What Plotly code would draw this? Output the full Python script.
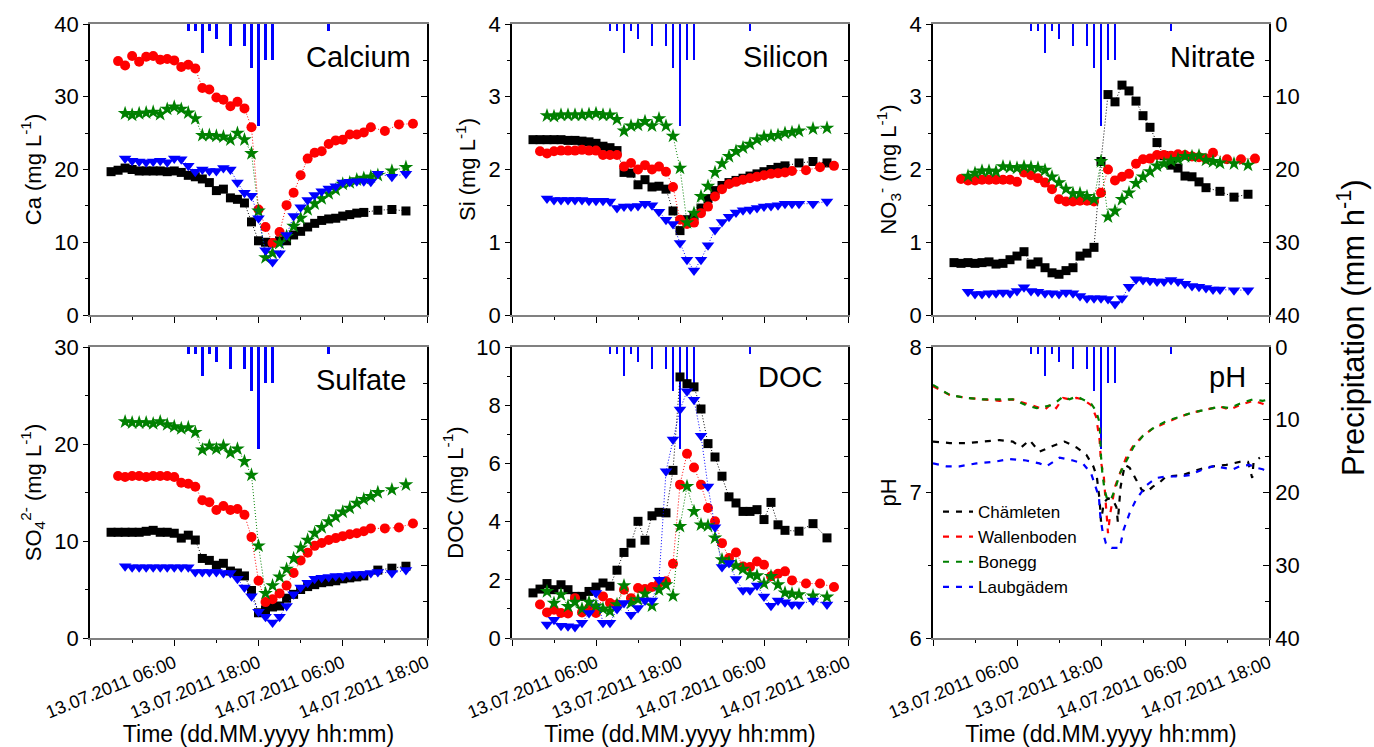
import plotly.graph_objects as go
import pandas as pd

# ---------------- data (hours counted from 12.07.2011 00:00) ----------------
T_CHAM = [21, 22, 23, 24, 25, 26, 27, 28, 29, 30, 31, 32, 33, 34, 35, 36, 37, 38, 39, 40,
          41, 42, 43, 44, 45, 46, 47, 48, 49, 50, 51, 52, 53, 54, 55, 56, 57, 59, 61, 63]
T_WALL = [22, 23, 24, 25, 26, 27, 28, 29, 30, 31, 32, 33, 34, 35, 36, 37, 38, 39, 40, 41,
          42, 43, 44, 45, 46, 47, 48, 49, 50, 51, 52, 53, 54, 55, 56, 57, 58, 60, 62, 64]
T_BON = [23, 24, 25, 26, 27, 28, 29, 30, 31, 32, 33, 34, 35, 36, 37, 38, 39, 40, 41, 42,
         43, 44, 45, 46, 47, 48, 49, 50, 51, 52, 53, 54, 55, 56, 57, 58, 59, 61, 63]
T_LAUB = [23, 24, 25, 26, 27, 28, 29, 30, 31, 32, 33, 34, 35, 36, 37, 38, 39, 40, 41, 42,
          43, 44, 45, 46, 47, 48, 49, 50, 51, 52, 53, 54, 55, 56, 57, 58, 59, 61, 63]

CA_CHAM = [19.7, 19.9, 20.2, 20.0, 19.8, 19.8, 19.8, 19.8, 19.7, 19.8, 19.6, 19.2, 19.0, 18.7, 18.2, 17.1, 17.3, 16.1, 15.9, 15.4,
           12.8, 10.2, 10.0, 9.9, 10.2, 10.2, 11.0, 11.5, 12.1, 12.6, 13.0, 13.2, 13.3, 13.6, 13.8, 14.0, 14.1, 14.4, 14.5, 14.3]
CA_WALL = [34.9, 34.3, 35.6, 34.8, 35.5, 35.6, 35.1, 35.2, 35.0, 34.1, 34.4, 33.9, 31.2, 31.0, 29.9, 29.6, 28.7, 29.3, 28.4, 25.8,
           14.5, 12.1, 9.9, 11.4, 15.1, 16.8, 19.2, 21.5, 22.3, 22.5, 23.5, 24.0, 24.1, 24.8, 24.8, 25.1, 25.8, 25.3, 26.2, 26.3]
CA_BON = [27.7, 27.5, 27.7, 27.8, 27.9, 27.6, 28.3, 28.6, 28.3, 27.8, 27.0, 24.7, 24.7, 24.6, 24.5, 24.1, 25.0, 24.1, 22.2, 14.3,
          7.9, 8.5, 9.9, 10.8, 12.2, 13.3, 14.5, 15.3, 16.0, 16.7, 17.2, 18.0, 18.2, 18.6, 18.8, 19.0, 19.2, 19.8, 20.3]
CA_LAUB = [21.5, 21.2, 21.1, 21.0, 21.1, 21.2, 21.0, 21.5, 21.4, 20.5, 19.7, 20.0, 19.8, 19.8, 20.2, 20.0, 18.2, 16.8, 16.4, 13.3,
           8.9, 7.3, 8.5, 11.0, 13.6, 14.8, 15.8, 16.5, 17.0, 17.4, 17.7, 18.2, 18.3, 18.4, 18.4, 18.3, 19.4, 19.0, 19.4]

SI_CHAM = [2.41, 2.41, 2.41, 2.41, 2.41, 2.40, 2.40, 2.39, 2.38, 2.36, 2.32, 2.30, 2.26, 1.96, 1.95, 1.79, 1.86, 1.76, 1.77, 1.73,
           1.43, 1.16, 1.31, 1.36, 1.47, 1.60, 1.71, 1.78, 1.82, 1.85, 1.88, 1.91, 1.94, 1.97, 2.00, 2.03, 2.05, 2.09, 2.11, 2.09]
SI_WALL = [2.25, 2.22, 2.25, 2.26, 2.26, 2.26, 2.27, 2.26, 2.26, 2.20, 2.20, 2.20, 2.04, 2.09, 2.00, 2.06, 2.00, 2.04, 1.97, 1.76,
           1.31, 1.25, 1.27, 1.40, 1.49, 1.63, 1.73, 1.80, 1.83, 1.86, 1.88, 1.90, 1.92, 1.94, 1.95, 1.96, 1.98, 1.99, 2.03, 2.05]
SI_BON = [2.74, 2.73, 2.75, 2.75, 2.75, 2.75, 2.76, 2.77, 2.75, 2.75, 2.69, 2.53, 2.60, 2.61, 2.66, 2.60, 2.70, 2.60, 2.46, 2.02,
          1.27, 1.40, 1.63, 1.77, 1.96, 2.08, 2.18, 2.25, 2.30, 2.35, 2.41, 2.45, 2.46, 2.47, 2.50, 2.51, 2.53, 2.56, 2.57]
SI_LAUB = [1.60, 1.58, 1.58, 1.58, 1.58, 1.58, 1.57, 1.57, 1.57, 1.56, 1.47, 1.49, 1.49, 1.50, 1.53, 1.51, 1.42, 1.31, 1.25, 0.99,
           0.76, 0.61, 0.76, 0.96, 1.17, 1.28, 1.35, 1.41, 1.44, 1.45, 1.47, 1.49, 1.50, 1.51, 1.53, 1.53, 1.53, 1.53, 1.56]

NO3_CHAM = [0.72, 0.71, 0.72, 0.71, 0.72, 0.73, 0.70, 0.71, 0.76, 0.81, 0.87, 0.70, 0.73, 0.65, 0.58, 0.56, 0.61, 0.65, 0.81, 0.85,
            0.93, 2.11, 3.03, 2.93, 3.16, 3.08, 2.94, 2.74, 2.58, 2.37, 2.19, 2.06, 2.02, 1.91, 1.90, 1.83, 1.75, 1.70, 1.62, 1.66]
NO3_WALL = [1.87, 1.85, 1.85, 1.86, 1.86, 1.86, 1.86, 1.86, 1.83, 1.96, 1.92, 1.88, 1.82, 1.73, 1.59, 1.56, 1.56, 1.57, 1.57, 1.56,
            1.68, 2.00, 1.85, 1.90, 1.94, 2.08, 2.14, 2.15, 2.20, 2.20, 2.19, 2.21, 2.20, 2.18, 2.17, 2.15, 2.23, 2.14, 2.14, 2.15]
NO3_BON = [1.91, 1.95, 1.98, 1.98, 1.97, 2.04, 2.03, 2.02, 2.04, 2.03, 2.02, 1.99, 1.90, 1.82, 1.73, 1.67, 1.67, 1.63, 1.59, 2.11,
           1.35, 1.43, 1.59, 1.68, 1.81, 1.90, 1.97, 2.05, 2.08, 2.12, 2.14, 2.18, 2.18, 2.19, 2.13, 2.11, 2.09, 2.08, 2.06]
NO3_LAUB = [0.32, 0.29, 0.29, 0.30, 0.30, 0.31, 0.30, 0.33, 0.38, 0.33, 0.32, 0.30, 0.30, 0.29, 0.31, 0.30, 0.26, 0.23, 0.23, 0.23,
            0.22, 0.15, 0.23, 0.39, 0.49, 0.48, 0.47, 0.46, 0.46, 0.48, 0.46, 0.43, 0.40, 0.39, 0.37, 0.35, 0.35, 0.34, 0.34]

SO4_CHAM = [10.9, 10.9, 10.9, 10.9, 10.9, 11.0, 11.1, 10.9, 10.9, 10.8, 10.3, 10.6, 10.1, 8.2, 8.0, 7.5, 7.7, 6.9, 6.7, 6.4,
            4.9, 2.6, 2.9, 3.2, 3.3, 4.1, 4.5, 5.0, 5.3, 5.5, 5.7, 5.8, 5.9, 6.1, 6.2, 6.3, 6.4, 7.0, 7.2, 7.4]
SO4_WALL = [16.7, 16.6, 16.7, 16.7, 16.6, 16.7, 16.7, 16.7, 16.6, 16.0, 15.9, 15.6, 14.2, 14.0, 13.2, 13.6, 13.2, 13.3, 12.7, 10.4,
            5.9, 3.7, 4.0, 4.6, 5.4, 6.7, 8.0, 8.8, 9.5, 9.8, 10.1, 10.3, 10.5, 10.7, 10.8, 11.0, 11.3, 11.3, 11.4, 11.8]
SO4_BON = [22.3, 22.2, 22.2, 22.2, 22.1, 22.3, 22.0, 21.8, 21.6, 21.7, 21.2, 19.4, 19.8, 19.5, 19.8, 19.1, 19.5, 18.2, 16.8, 9.5,
           4.6, 5.4, 6.3, 7.1, 8.2, 9.3, 10.1, 10.8, 11.4, 12.0, 12.5, 13.0, 13.4, 13.9, 14.3, 14.6, 15.0, 15.3, 15.8]
SO4_LAUB = [7.4, 7.3, 7.3, 7.3, 7.3, 7.3, 7.3, 7.3, 7.3, 7.3, 6.8, 6.8, 6.8, 6.8, 6.7, 6.7, 6.1, 5.2, 4.3, 2.7,
            2.2, 1.6, 2.2, 3.3, 4.5, 5.2, 5.7, 6.1, 6.2, 6.3, 6.4, 6.4, 6.5, 6.6, 6.6, 6.7, 6.8, 6.7, 7.0]

DOC_CHAM = [1.55, 1.68, 1.87, 1.66, 1.83, 1.66, 1.43, 1.43, 1.60, 1.75, 1.89, 1.78, 2.33, 2.94, 3.26, 4.01, 3.36, 4.20, 4.32, 4.30,
            5.76, 8.97, 8.74, 8.63, 7.87, 6.68, 6.22, 5.56, 4.85, 4.64, 4.35, 4.35, 4.41, 4.07, 4.66, 3.89, 3.70, 3.67, 3.93, 3.44]
DOC_WALL = [1.15, 0.88, 0.97, 0.86, 0.84, 1.37, 0.88, 1.03, 0.86, 1.43, 1.20, 1.15, 1.66, 1.37, 1.72, 1.68, 1.75, 1.89, 1.95, 2.55,
            5.27, 6.33, 5.86, 5.27, 4.47, 4.01, 3.26, 2.75, 2.94, 2.46, 2.44, 2.63, 2.52, 2.12, 2.21, 2.29, 1.98, 1.87, 1.87, 1.75]
DOC_BON = [1.60, 1.20, 1.49, 1.09, 1.23, 1.00, 1.23, 1.10, 1.00, 0.92, 1.15, 1.80, 1.20, 1.32, 1.52, 1.11, 1.66, 1.83, 1.45, 3.84,
           5.21, 4.35, 3.89, 3.86, 3.44, 2.69, 2.60, 2.49, 2.37, 2.18, 2.14, 1.87, 2.12, 1.83, 1.55, 1.52, 1.49, 1.45, 1.41]
DOC_LAUB = [0.46, 0.63, 0.42, 0.40, 0.38, 0.52, 0.86, 1.55, 0.52, 0.52, 1.00, 1.20, 0.80, 1.03, 1.29, 1.29, 2.00, 5.73, 6.82, 7.85,
            8.48, 8.19, 6.95, 5.21, 3.81, 2.44, 2.58, 2.03, 1.64, 1.64, 1.80, 1.43, 1.11, 1.29, 1.23, 1.15, 1.15, 1.29, 1.15]

PH_T_CHAM = [18.0, 20.4, 22.8, 25.1, 27.5, 29.4, 30.6, 31.8, 33.2, 35.1, 36.8, 38.5, 39.9, 40.9, 41.4, 41.8, 42.0, 42.4, 43.0, 43.7,
             44.2, 44.4, 44.8, 45.4, 46.1, 47.0, 47.8, 48.5, 49.4, 50.4, 51.3, 53.7, 56.1, 58.0, 59.9, 61.8, 63.0, 63.6, 63.8, 64.7]
PH_CHAM = [7.35, 7.34, 7.34, 7.35, 7.36, 7.35, 7.31, 7.36, 7.28, 7.32, 7.35, 7.31, 7.26, 7.18, 7.11, 6.95, 6.80, 6.93, 6.96, 6.95,
           6.90, 6.80, 7.04, 7.19, 7.17, 7.09, 7.02, 7.00, 7.04, 7.07, 7.11, 7.12, 7.16, 7.18, 7.19, 7.21, 7.21, 7.10, 7.21, 7.24]
PH_T_WALL = [18.0, 20.4, 22.8, 25.1, 27.5, 29.4, 31.3, 32.8, 34.0, 34.9, 35.6, 36.6, 37.5, 38.5, 39.4, 40.6, 41.3, 41.8, 42.0, 42.4,
             42.8, 43.0, 43.3, 44.0, 44.7, 45.6, 46.6, 48.0, 49.4, 51.3, 53.2, 55.1, 57.0, 59.0, 60.4, 61.8, 63.7, 65.1, 66.0]
PH_WALL = [7.73, 7.67, 7.65, 7.64, 7.63, 7.64, 7.61, 7.59, 7.57, 7.61, 7.58, 7.65, 7.64, 7.65, 7.64, 7.60, 7.52, 7.36, 7.21, 7.11,
           6.88, 6.72, 6.85, 7.04, 7.13, 7.24, 7.32, 7.39, 7.44, 7.48, 7.52, 7.55, 7.57, 7.59, 7.57, 7.60, 7.63, 7.61, 7.59]
PH_T_BON = [18.0, 20.4, 22.8, 25.1, 27.5, 29.4, 31.3, 32.8, 34.0, 34.9, 35.6, 36.6, 37.5, 38.5, 39.4, 40.6, 41.3, 41.8, 42.0, 42.2,
            42.5, 42.9, 43.4, 44.0, 44.7, 45.6, 46.6, 48.0, 49.4, 51.3, 53.2, 55.1, 57.0, 59.0, 60.4, 61.8, 63.7, 65.1, 66.0]
PH_BON = [7.74, 7.67, 7.65, 7.64, 7.64, 7.64, 7.60, 7.58, 7.59, 7.60, 7.62, 7.66, 7.64, 7.66, 7.64, 7.61, 7.56, 7.48, 7.25, 7.13,
          7.02, 6.95, 6.95, 7.02, 7.13, 7.22, 7.31, 7.39, 7.44, 7.49, 7.52, 7.55, 7.57, 7.59, 7.58, 7.61, 7.64, 7.63, 7.64]
PH_T_LAUB = [18.0, 19.9, 21.8, 24.2, 26.6, 29.0, 31.3, 33.2, 34.2, 36.1, 38.0, 39.4, 40.6, 41.3, 41.7, 41.9, 42.2, 42.7, 43.5, 44.7,
             45.2, 46.1, 47.0, 48.5, 49.9, 51.3, 53.2, 54.7, 56.1, 58.0, 59.9, 60.9, 61.8, 63.2, 64.2, 65.1, 66.0]
PH_LAUB = [7.20, 7.18, 7.18, 7.20, 7.21, 7.23, 7.22, 7.20, 7.18, 7.24, 7.22, 7.20, 7.13, 7.02, 6.97, 6.84, 6.74, 6.65, 6.62, 6.62,
           6.74, 6.86, 6.95, 7.05, 7.10, 7.11, 7.11, 7.12, 7.15, 7.18, 7.17, 7.16, 7.18, 7.19, 7.17, 7.16, 7.14]

PRECIP_T = [32, 33, 34, 35, 36, 38, 40, 41, 42, 43, 44, 52]
PRECIP_MM = [1, 1, 4, 1, 2, 3, 3, 6, 14, 5, 5, 1]

SITES = ["Chämleten", "Wallenboden", "Bonegg", "Laubgädem"]
XTICK_T = [18, 30, 42, 54, 66]
XTICK_TEXT = ["", "13.07.2011 06:00", "13.07.2011 18:00", "14.07.2011 06:00", "14.07.2011 18:00"]
XMINOR_T = [24, 36, 48, 60]

# ---------------- helpers ----------------
BASE = pd.Timestamp("2011-07-12 00:00")


def tt(hours):
    return [BASE + pd.Timedelta(hours=h) for h in hours]


W, H = 1374, 747
FONT = "Arial, Liberation Sans, sans-serif"
COLORS = ["#000000", "#ff0000", "#008000", "#0000ff"]
SYMBOLS = ["square", "circle", "star", "triangle-down"]
SIZES = [9, 10, 11, 11]
TIMES = [T_CHAM, T_WALL, T_BON, T_LAUB]

panels = [
    ("Calcium", "Ca (mg L<sup>-1</sup>)", [0, 40], 10, 5, [CA_CHAM, CA_WALL, CA_BON, CA_LAUB]),
    ("Silicon", "Si (mg L<sup>-1</sup>)", [0, 4], 1, 0.5, [SI_CHAM, SI_WALL, SI_BON, SI_LAUB]),
    ("Nitrate", "NO<sub>3</sub><sup>-</sup> (mg L<sup>-1</sup>)", [0, 4], 1, 0.5, [NO3_CHAM, NO3_WALL, NO3_BON, NO3_LAUB]),
    ("Sulfate", "SO<sub>4</sub><sup>2-</sup> (mg L<sup>-1</sup>)", [0, 30], 10, 5, [SO4_CHAM, SO4_WALL, SO4_BON, SO4_LAUB]),
    ("DOC", "DOC (mg L<sup>-1</sup>)", [0, 10], 2, 1, [DOC_CHAM, DOC_WALL, DOC_BON, DOC_LAUB]),
    ("pH", "pH", [6, 8], 1, 0.5, None),
]
PH_SERIES = [(PH_T_CHAM, PH_CHAM), (PH_T_WALL, PH_WALL), (PH_T_BON, PH_BON), (PH_T_LAUB, PH_LAUB)]

COLS_PX = [(90, 427), (512, 848), (933, 1269)]
ROWS_PX = [(24, 315), (347, 638)]
TITLE_POS = [(413, 57), (830, 57), (1257, 57), (408, 380), (824, 377), (1248, 377)]

fig = go.Figure()
layout = dict(
    width=W, height=H, margin=dict(l=0, r=0, t=0, b=0, autoexpand=False),
    paper_bgcolor="white", plot_bgcolor="white",
    font=dict(family=FONT, color="black"),
    showlegend=True,
    legend=dict(x=938 / W, y=1 - 494 / H, xanchor="left", yanchor="top",
                font=dict(size=17, family=FONT), bgcolor="rgba(0,0,0,0)",
                tracegroupgap=0, itemwidth=30),
    annotations=[],
    bargap=0,
)

for i, (name, ytitle, yrange, dtick, minor, series) in enumerate(panels):
    r, c = divmod(i, 3)
    n = i + 1
    xname = "x" if n == 1 else f"x{n}"
    xkey = "xaxis" if n == 1 else f"xaxis{n}"
    ip, idt = 2 * i + 1, 2 * i + 2
    ypname = "y" if ip == 1 else f"y{ip}"
    ypkey = "yaxis" if ip == 1 else f"yaxis{ip}"
    ydname, ydkey = f"y{idt}", f"yaxis{idt}"
    x0, x1 = COLS_PX[c]
    t0, t1 = ROWS_PX[r]
    bottom = r == 1

    layout[xkey] = dict(
        type="date", domain=[x0 / W, x1 / W], anchor=ypname, automargin=False,
        range=[BASE + pd.Timedelta(hours=18), BASE + pd.Timedelta(hours=66)],
        tickmode="array", tickvals=tt(XTICK_T), ticktext=XTICK_TEXT,
        showticklabels=bottom, tickangle=-22, tickfont=dict(size=18),
        ticks="outside", ticklen=6, tickwidth=1.3, tickcolor="black",
        minor=dict(tickmode="array", tickvals=tt(XMINOR_T), ticks="outside",
                   ticklen=3, tickwidth=1.3, tickcolor="black"),
        showline=True, linecolor="#808080", linewidth=1.5, mirror=True,
        showgrid=False, zeroline=False,
        title=dict(text="Time (dd.MM.yyyy hh:mm)" if bottom else "", font=dict(size=23), standoff=6),
    )
    layout[ypkey] = dict(
        domain=[1 - t1 / H, 1 - t0 / H], anchor=xname, side="right", automargin=False,
        range=[40, 0], tickmode="linear", tick0=0, dtick=10,
        showticklabels=(c == 2), tickfont=dict(size=22),
        ticks="inside", ticklen=6, tickwidth=1.3, tickcolor="black",
        minor=dict(ticks="inside", ticklen=4, dtick=5, tickwidth=1.3, tickcolor="black"),
        showline=True, linecolor="black", linewidth=1.5,
        showgrid=False, zeroline=False,
    )
    layout[ydkey] = dict(
        anchor=xname, overlaying=ypname, side="left", automargin=False,
        range=yrange, tickmode="linear", tick0=yrange[0], dtick=dtick,
        tickfont=dict(size=22),
        ticks="outside", ticklen=5, tickwidth=1.3, tickcolor="black",
        minor=dict(ticks="outside", ticklen=3, dtick=minor, tickwidth=1.3, tickcolor="black"),
        showline=True, linecolor="black", linewidth=1.5,
        showgrid=False, zeroline=False,
        title=dict(text=ytitle, font=dict(size=22), standoff=7),
    )

    # precipitation bars (base axis, drawn below the data)
    fig.add_trace(go.Bar(
        x=tt(PRECIP_T), y=PRECIP_MM, xaxis=xname, yaxis=ypname,
        width=0.42 * 3600 * 1000, marker=dict(color="#0000ff", line=dict(width=0)),
        showlegend=False, hoverinfo="skip",
    ))

    if series is not None:
        for k in range(4):
            fig.add_trace(go.Scatter(
                x=tt(TIMES[k]), y=series[k], xaxis=xname, yaxis=ydname,
                mode="lines+markers", name=SITES[k], showlegend=False,
                line=dict(color=COLORS[k], width=1, dash="1px,2px"),
                marker=dict(symbol=SYMBOLS[k], size=SIZES[k], color=COLORS[k], line=dict(width=0)),
            ))
    else:
        for k, (th, vals) in enumerate(PH_SERIES):
            fig.add_trace(go.Scatter(
                x=tt(th), y=vals, xaxis=xname, yaxis=ydname,
                mode="lines", name=SITES[k], showlegend=True,
                line=dict(color=COLORS[k], width=2.2, dash="6px,7px"),
            ))

    tx, ty = TITLE_POS[i]
    layout["annotations"].append(dict(
        text=name, x=tx / W, y=1 - ty / H, xref="paper", yref="paper",
        xanchor="right", yanchor="middle", showarrow=False, font=dict(size=29),
    ))

layout["annotations"].append(dict(
    text="Precipitation (mm h<sup>-1</sup>)", x=1351 / W, y=1 - 328 / H,
    xref="paper", yref="paper", xanchor="center", yanchor="middle",
    textangle=-90, showarrow=False, font=dict(size=31),
))

fig.update_layout(**layout)
fig.write_html("out.html", config={"displayModeBar": False},
               post_script="document.body.style.margin='0';")
